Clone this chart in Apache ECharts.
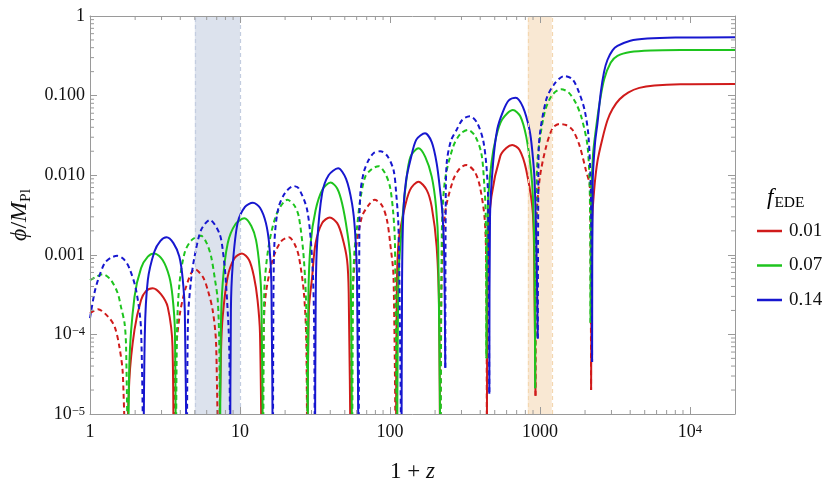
<!DOCTYPE html>
<html>
<head>
<meta charset="utf-8">
<script src="https://cdn.jsdelivr.net/npm/echarts@6/dist/echarts.min.js"></script>
<style>
html,body{margin:0;padding:0;background:#fff;}
#chart{width:830px;height:490px;}
</style>
</head>
<body>
<div id="chart"></div>
<script>
// ---------- data ----------
// each series: list of arcs of |phi|, sign alternates (first arc negative -> dashed)
const seriesLabels = ['0.01', '0.07', '0.14'];

const redArcs = [
 [[1,1.84e-4],[1.13,2.07e-4],[1.32,1.67e-4],[1.46,1.25e-4],[1.57,7e-5],[1.655,3.2e-5],[1.74,1e-6]],
 [[1.74,1e-6],[1.83,2.7e-5],[1.98,1.14e-4],[2.19,2.7e-4],[2.36,3.5e-4],[2.62,3.8e-4],[2.97,3.2e-4],[3.3,2.2e-4],[3.55,7e-5],[3.61,1e-6]],
 [[3.61,1e-6],[3.66,3.2e-5],[3.95,1.67e-4],[4.38,4e-4],[5.0,6.6e-4],[5.65,5.3e-4],[6.1,3.6e-4],[6.58,2e-4],[6.93,7.7e-5],[7.18,1e-6]],
 [[7.18,1e-6],[7.48,6.3e-5],[7.67,1.67e-4],[8.28,5.3e-4],[9.17,9e-4],[10.3,1.04e-3],[11.5,8.6e-4],[12.4,5.3e-4],[13.1,2.7e-4],[13.6,1.03e-4],[14.0,1e-6]],
 [[14.0,1e-6],[14.4,1.2e-4],[14.9,3.3e-4],[16.5,8.6e-4],[18.7,1.46e-3],[21.2,1.66e-3],[23.2,1.35e-3],[24.7,9.5e-4],[26.7,3.3e-4],[27.7,7.7e-5],[28.1,1e-6]],
 [[28.1,1e-6],[28.8,2e-4],[30.3,5.3e-4],[31.9,1.39e-3],[35.3,2.5e-3],[39.7,2.95e-3],[44.5,2.5e-3],[48,1.7e-3],[51.8,8.6e-4],[53.1,3.3e-4],[55,1e-6]],
 [[55,1e-6],[55.9,2e-4],[58.9,1.04e-3],[65,3e-3],[72.1,4.2e-3],[79,4.9e-3],[88.3,4.2e-3],[95.5,2.74e-3],[100.4,1.39e-3],[105.7,5.3e-4],[109.6,1e-6]],
 [[109.6,1e-6],[111,3e-4],[114,1.39e-3],[123,3.3e-3],[136,6.5e-3],[155,8.3e-3],[176,6.5e-3],[190,4e-3],[205,1.26e-3],[213,1.84e-4],[216,1e-6]],
 [[216,1e-6],[221,4.8e-4],[233,3.3e-3],[264,8.7e-3],[293,1.22e-2],[324,1.34e-2],[368,1.1e-2],[398,7.2e-3],[429,2.74e-3],[440,4.8e-4],[443,1e-6]],
 [[443,1e-6],[451,1.26e-3],[475,5.4e-3],[545,1.75e-2],[597,2.2e-2],[654,2.4e-2],[732,2.07e-2],[811,1.16e-2],[898,3.3e-3],[921,3e-4],[935,1.7e-5]],
 [[935,1.7e-5],[944,2.05e-3],[994,8.7e-3],[1100,2.28e-2],[1218,3.9e-2],[1349,4.4e-2],[1494,4.27e-2],[1653,3.7e-2],[1832,2.4e-2],[2026,1.16e-2],[2154,7.2e-3],[2180,1e-3],[2195,2e-5]],
 [[2195,2e-5],[2230,2.5e-3],[2300,6.5e-3],[2421,1.5e-2],[2614,2.9e-2],[2822,4.9e-2],[3050,6.8e-2],[3400,9e-2],[3900,0.11],[4600,0.125],[5800,0.134],[8650,0.139],[20000,0.14]]
];

const greenArcs = [
 [[1,4.8e-4],[1.1,5.3e-4],[1.22,5.7e-4],[1.38,4.8e-4],[1.53,3.3e-4],[1.61,2.2e-4],[1.7,1.38e-4],[1.74,7e-5],[1.8,1e-6]],
 [[1.8,1e-6],[1.83,4.3e-5],[1.98,2.97e-4],[2.19,6.8e-4],[2.43,9.5e-4],[2.69,1.04e-3],[3.05,8.6e-4],[3.38,5.3e-4],[3.55,3e-4],[3.68,1.14e-4],[3.74,1e-6]],
 [[3.74,1e-6],[3.8,1e-4],[3.95,4.4e-4],[4.3,1.1e-3],[4.8,1.55e-3],[5.5,1.73e-3],[6.0,1.4e-3],[6.42,9.5e-4],[6.8,5e-4],[7.11,2.7e-4],[7.29,6.3e-5],[7.36,1e-6]],
 [[7.36,1e-6],[7.45,1e-4],[7.67,4.4e-4],[8.28,1.39e-3],[9.3,2.4e-3],[10.7,2.88e-3],[11.9,2.3e-3],[12.8,1.53e-3],[13.5,7e-4],[13.9,2.7e-4],[14.3,1e-6]],
 [[14.3,1e-6],[14.5,3e-4],[15.4,1.15e-3],[17.5,3.2e-3],[20.7,4.9e-3],[23,4.2e-3],[24.7,3e-3],[26.7,8.6e-4],[27.8,1.5e-4],[28.3,1e-6]],
 [[28.3,1e-6],[28.6,3e-4],[29.6,1.39e-3],[31.9,3.6e-3],[35.5,6.6e-3],[40.2,8.1e-3],[44.5,6.8e-3],[48,4.4e-3],[51.8,2e-3],[54.5,8.6e-4],[55.9,1e-6]],
 [[55.9,1e-6],[56.8,4e-4],[58,1.1e-3],[60.3,2.2e-3],[63.5,5e-3],[68.5,9.6e-3],[76,1.2e-2],[84,1.3e-2],[93,1.05e-2],[100,7.2e-3],[105,3.5e-3],[108,1.39e-3],[111.7,1e-6]],
 [[111.7,1e-6],[114,5e-4],[120,2.24e-3],[128,8e-3],[137,1.7e-2],[155,2.18e-2],[172,1.7e-2],[190,9.6e-3],[203,4e-3],[210,1.26e-3],[218,1e-6]],
 [[218,1e-6],[222,2e-3],[233,8.7e-3],[264,2.28e-2],[295,3.3e-2],[332,3.7e-2],[370,3.1e-2],[407,1.88e-2],[425,8e-3],[435,3.3e-3],[440,5e-5]],
 [[440,5e-5],[450,4e-3],[475,1.41e-2],[510,3e-2],[560,5e-2],[661,6.6e-2],[740,5.5e-2],[811,3.05e-2],[870,1.2e-2],[898,5.4e-3],[921,7.8e-4],[930,2.1e-5]],
 [[930,2.1e-5],[950,5e-3],[968,1.71e-2],[1072,6e-2],[1200,0.1],[1383,0.12],[1550,0.11],[1740,8e-2],[1900,5.2e-2],[2080,2.28e-2],[2154,5.4e-3],[2177,1.4e-4]],
 [[2177,1.4e-4],[2200,5e-3],[2260,1.8e-2],[2360,3.7e-2],[2485,7.5e-2],[2683,0.16],[2970,0.26],[3290,0.315],[4010,0.352],[5500,0.368],[9000,0.373],[20000,0.374]]
];

const blueArcs = [
 [[1,1.6e-4],[1.07,3.3e-4],[1.13,4.8e-4],[1.25,7.8e-4],[1.38,9.2e-4],[1.52,9.7e-4],[1.68,8.8e-4],[1.83,6.8e-4],[2.03,3.6e-4],[2.19,1.14e-4],[2.27,1e-6]],
 [[2.27,1e-6],[2.32,1e-4],[2.43,4.8e-4],[2.69,1.1e-3],[2.95,1.5e-3],[3.24,1.66e-3],[3.6,1.4e-3],[3.94,9.5e-4],[4.15,5e-4],[4.29,1.84e-4],[4.42,1e-6]],
 [[4.42,1e-6],[4.5,1.5e-4],[4.7,4.5e-4],[4.98,9.5e-4],[5.51,2.05e-3],[6.3,2.74e-3],[7.29,1.86e-3],[7.7,1.1e-3],[8.07,4.4e-4],[8.49,6.3e-5],[8.59,1e-6]],
 [[8.59,1e-6],[8.7,2e-4],[8.93,7.1e-4],[9.64,2.5e-3],[10.8,4e-3],[12.2,4.5e-3],[13.6,3.9e-3],[14.9,2.5e-3],[15.7,1.3e-3],[16.2,4.4e-4],[16.6,1e-6]],
 [[16.6,1e-6],[16.7,2e-4],[17.0,1.5e-3],[18,3.8e-3],[20,6e-3],[22.9,7.3e-3],[24.7,6.8e-3],[28.1,3.6e-3],[30.3,8.6e-4],[31.2,1.5e-4],[31.6,1e-6]],
 [[31.6,1e-6],[32,3e-4],[32.7,1.39e-3],[35.3,5.9e-3],[39,1e-2],[45.1,1.22e-2],[51,9e-3],[55.9,4.4e-3],[58.5,2e-3],[60.3,5.3e-4],[61.9,1e-6]],
 [[61.9,1e-6],[62.5,1.5e-3],[63.5,5.9e-3],[67,1.1e-2],[72.1,1.55e-2],[78,1.9e-2],[86.3,2e-2],[96,1.75e-2],[105.7,1.16e-2],[110,6e-3],[114,2.24e-3],[117,7.7e-5],[119.4,1e-6]],
 [[119.4,1e-6],[120.5,5e-4],[123,3.6e-3],[128,8.5e-3],[137,1.55e-2],[150,2.8e-2],[171.5,3.36e-2],[190,2.6e-2],[205,1.41e-2],[217,6e-3],[224,3.3e-3],[230,1e-3],[234,3.8e-5]],
 [[234,3.8e-5],[235.5,4e-3],[239,1.41e-2],[255,2.7e-2],[278,3.7e-2],[305,5e-2],[341,5.5e-2],[380,4.6e-2],[418,2.77e-2],[440,1.3e-2],[451,5.4e-3],[460,1.8e-5]],
 [[460,1.8e-5],[465,3e-3],[487,1.41e-2],[520,3.8e-2],[567,6.3e-2],[620,8.7e-2],[689,9.4e-2],[770,7.2e-2],[853,3.7e-2],[890,2e-2],[921,8.7e-3],[948,1.26e-3],[968,8.9e-5]],
 [[968,8.9e-5],[975,5e-3],[984,2.28e-2],[1100,8.8e-2],[1250,0.14],[1456,0.176],[1650,0.16],[1832,0.107],[1990,6.5e-2],[2110,3.05e-2],[2190,5.4e-3],[2229,4.5e-5]],
 [[2229,4.5e-5],[2250,8e-3],[2330,2.5e-2],[2421,4.5e-2],[2547,0.11],[2680,0.2],[2820,0.28],[3050,0.37],[3290,0.42],[4010,0.49],[5200,0.52],[8000,0.535],[20000,0.54]]
];

const bandBlue = [5, 10];
const bandOrange = [830, 1200];

const xTickValues = [1, 10, 100, 1000, 10000];
const xTickLabels = ['1', '10', '100', '1000', '10{s|4}'];
const yTickValues = [1, 0.1, 0.01, 0.001, 1e-4, 1e-5];
const yTickLabels = ['1', '0.100', '0.010', '0.001', '10{s|\u22124}', '10{s|\u22125}'];

// ---------- styles ----------
const colors = ['#d01b1b', '#1ec41e', '#1717cf'];
const FONT = '"Liberation Serif", "DejaVu Serif", serif';
const AX = '#9a9a9a';

function buildPair(arcs, name, color) {
  const solid = [], dashed = [];
  arcs.forEach((arc, i) => {
    const target = (i % 2 === 0) ? dashed : solid;
    arc.forEach(p => target.push([p[0], p[1]]));
    target.push([arc[arc.length - 1][0], '-']);
  });
  const base = {
    type: 'line', showSymbol: false, symbol: 'none', smooth: 0.3,
    connectNulls: false, clip: true, silent: true, animation: false,
    itemStyle: { color: color }
  };
  return [
    Object.assign({}, base, { name: name, data: solid, lineStyle: { color: color, width: 2 } }),
    Object.assign({}, base, { name: name + ' ', data: dashed, lineStyle: { color: color, width: 2, type: [5, 3.5] } })
  ];
}

function labelFor(values, labels) {
  return function (v) {
    for (let i = 0; i < values.length; i++) {
      if (Math.abs(Math.log10(v) - Math.log10(values[i])) < 1e-6) return labels[i];
    }
    return '';
  };
}

// minor tick positions (2..9 in each decade)
const xMinor = [], yMinor = [];
for (let d = 0; d <= 4; d++) for (let m = 2; m <= 9; m++) { const v = m * Math.pow(10, d); if (v < 20000) xMinor.push(v); }
for (let d = -5; d <= -1; d++) for (let m = 2; m <= 9; m++) yMinor.push(m * Math.pow(10, d));

const richSup = {
  n: { fontFamily: FONT, fontSize: 18, color: '#111', lineHeight: 20 },
  s: { fontFamily: FONT, fontSize: 12.5, color: '#111', lineHeight: 12, verticalAlign: 'top' }
};

const chart = echarts.init(document.getElementById('chart'), null, { renderer: 'canvas' });

const series = [];
// bands
series.push({
  type: 'line', data: [], silent: true, z: 0,
  markArea: {
    silent: true,
    data: [
      [{ xAxis: bandBlue[0], itemStyle: { color: '#dce2ed' } }, { xAxis: bandBlue[1] }],
      [{ xAxis: bandOrange[0], itemStyle: { color: '#f9e8d3' } }, { xAxis: bandOrange[1] }]
    ]
  },
  markLine: {
    silent: true, symbol: 'none', label: { show: false },
    data: [
      { xAxis: bandBlue[0], lineStyle: { color: '#c3cde0', type: [4, 3], width: 1.2 } },
      { xAxis: bandBlue[1], lineStyle: { color: '#c3cde0', type: [4, 3], width: 1.2 } },
      { xAxis: bandOrange[0], lineStyle: { color: '#f4d7b0', type: [4, 3], width: 1.2 } },
      { xAxis: bandOrange[1], lineStyle: { color: '#f4d7b0', type: [4, 3], width: 1.2 } }
    ]
  }
});
series.push(...buildPair(redArcs, seriesLabels[0], colors[0]));
series.push(...buildPair(greenArcs, seriesLabels[1], colors[1]));
series.push(...buildPair(blueArcs, seriesLabels[2], colors[2]));

// minor ticks through the axis scales
series.push({
  type: 'custom', silent: true, z: 10, clip: false,
  data: xMinor.map(v => [v, 1e-5]),
  renderItem: function (params, api) {
    const x = api.coord([api.value(0), 1e-5])[0];
    const yb = api.coord([1, 1e-5])[1];
    const yt = api.coord([1, 1])[1];
    const st = { stroke: AX, lineWidth: 1 };
    return { type: 'group', children: [
      { type: 'line', shape: { x1: x, y1: yb, x2: x, y2: yb - 4 }, style: st },
      { type: 'line', shape: { x1: x, y1: yt, x2: x, y2: yt + 4 }, style: st }
    ] };
  }
});
series.push({
  type: 'custom', silent: true, z: 10, clip: false,
  data: yMinor.map(v => [1, v]),
  renderItem: function (params, api) {
    const y = api.coord([1, api.value(1)])[1];
    const xl = api.coord([1, 1e-5])[0];
    const xr = api.coord([20000, 1e-5])[0];
    const st = { stroke: AX, lineWidth: 1 };
    return { type: 'group', children: [
      { type: 'line', shape: { x1: xl, y1: y, x2: xl + 4, y2: y }, style: st },
      { type: 'line', shape: { x1: xr, y1: y, x2: xr - 4, y2: y }, style: st }
    ] };
  }
});

const axisCommon = {
  type: 'log', logBase: 10,
  axisLine: { show: true, lineStyle: { color: AX, width: 1 } },
  axisTick: { show: true, inside: true, length: 7, lineStyle: { color: AX } },
  splitLine: { show: false },
  minorTick: { show: false }
};

const option = {
  animation: false,
  backgroundColor: '#ffffff',
  grid: { left: 90, right: 95, top: 16, bottom: 76, containLabel: false },
  xAxis: [
    Object.assign({}, axisCommon, {
      min: 1, max: 20000, position: 'bottom', z: 10,
      axisLabel: { show: true, margin: 9, formatter: labelFor(xTickValues, xTickLabels), rich: richSup, fontFamily: FONT, fontSize: 18, color: '#111' },
      name: '{n|1 + }{i|z}', nameLocation: 'middle', nameGap: 46,
      nameTextStyle: { rich: {
        n: { fontFamily: FONT, fontSize: 23, color: '#111' },
        i: { fontFamily: FONT, fontSize: 23, fontStyle: 'italic', color: '#111' }
      } }
    }),
    Object.assign({}, axisCommon, {
      min: 1, max: 20000, position: 'top', z: 10,
      axisLabel: { show: false }
    })
  ],
  yAxis: [
    Object.assign({}, axisCommon, {
      min: 1e-5, max: 1, position: 'left', z: 10,
      axisLabel: { show: true, margin: 5, formatter: labelFor(yTickValues, yTickLabels), rich: richSup, fontFamily: FONT, fontSize: 18, color: '#111' },
      name: '{i|\u03D5}{n|/}{i|M}{s|Pl}', nameLocation: 'middle', nameGap: 49,
      nameTextStyle: { rich: {
        i: { fontFamily: FONT, fontSize: 24, fontStyle: 'italic', color: '#111', lineHeight: 27 },
        n: { fontFamily: FONT, fontSize: 24, color: '#111', lineHeight: 27 },
        s: { fontFamily: FONT, fontSize: 15.5, color: '#111', lineHeight: 14, verticalAlign: 'bottom' }
      } }
    }),
    Object.assign({}, axisCommon, {
      min: 1e-5, max: 1, position: 'right', z: 10,
      axisLabel: { show: false }
    })
  ],
  legend: {
    data: seriesLabels,
    orient: 'vertical', left: 752, top: 216,
    icon: 'rect', itemWidth: 25, itemHeight: 2.5, itemGap: 14.5,
    textStyle: { fontFamily: FONT, fontSize: 19, color: '#111', lineHeight: 20, padding: [0, 0, 0, 2] },
    selectedMode: false
  },
  graphic: [{
    type: 'text', left: 767, top: 186, silent: true,
    style: {
      text: '{f|f}{s|EDE}',
      rich: {
        f: { fontFamily: FONT, fontSize: 23, fontStyle: 'italic', color: '#111', lineHeight: 26, padding: [0, 1, 0, 0] },
        s: { fontFamily: FONT, fontSize: 15.5, color: '#111', lineHeight: 15, verticalAlign: 'bottom' }
      }
    }
  }],
  series: series
};
chart.setOption(option);
</script>
</body>
</html>
